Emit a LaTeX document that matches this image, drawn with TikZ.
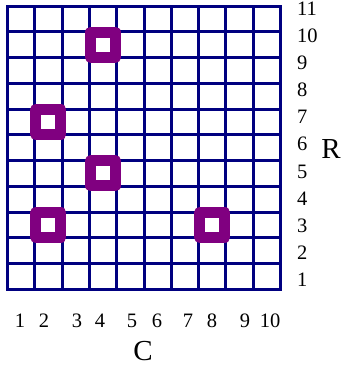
\documentclass[tikz,border=0pt]{standalone}
\usepackage{fontspec}
\setmainfont{Liberation Serif}
\usetikzlibrary{calc}
\begin{document}
\begin{tikzpicture}[x=1pt,y=1pt,
  gridline/.style={draw=navyblue,line width=3pt},
  marker/.style={draw=markpurple,line width=11pt,line join=round},
  numlabel/.style={font=\fontsize{20.5}{20.5}\selectfont,inner sep=0pt},
  axislabel/.style={font=\fontsize{29}{29}\selectfont,inner sep=0pt}]
\definecolor{navyblue}{RGB}{0,0,128}
\definecolor{markpurple}{RGB}{128,0,128}
\useasboundingbox (0,0) rectangle (342,369);
% grid: x from 7.5 to 280.5, y (from top) 6 to 289.3
\def\gx{7.5}\def\gw{27.3}
\def\gb{79.7}\def\gh{25.75}
\foreach \i in {0,...,10}{
  \draw[gridline] ({\gx+\i*\gw},\gb) -- ({\gx+\i*\gw},{\gb+11*\gh});
}
\foreach \j in {0,...,11}{
  \draw[gridline] (\gx,{\gb+\j*\gh}) -- ({\gx+10*\gw},{\gb+\j*\gh});
}
\draw[gridline,line cap=rect] (\gx,\gb) rectangle ({\gx+10*\gw},{\gb+11*\gh});
% markers
\foreach \c/\r [count=\k] in {4/10,2/7,4/5,2/3,8/3}{
  \coordinate (m\k) at ({\gx+(\c-0.5)*\gw},{\gb+(\r-0.5)*\gh});
  \draw[marker] ($(m\k)+(-12.5,-12.5)$) rectangle ($(m\k)+(12.5,12.5)$);
}
% row labels
\foreach \r in {1,...,11}{
  \node[numlabel,anchor=west] (r\r) at (297,{369-280+(\r-1)*27.15}) {\r};
}
% column labels
\foreach \c/\xx in {1/20,2/44,3/77,4/100,5/132,6/157,7/188,8/212,9/245,10/270}{
  \node[numlabel,anchor=base] (c\c) at (\xx,41) {\c};
}
\node[axislabel,anchor=base] (C) at (143,9) {C};
\node[axislabel] (R) at (331,220) {R};
\end{tikzpicture}
\end{document}
